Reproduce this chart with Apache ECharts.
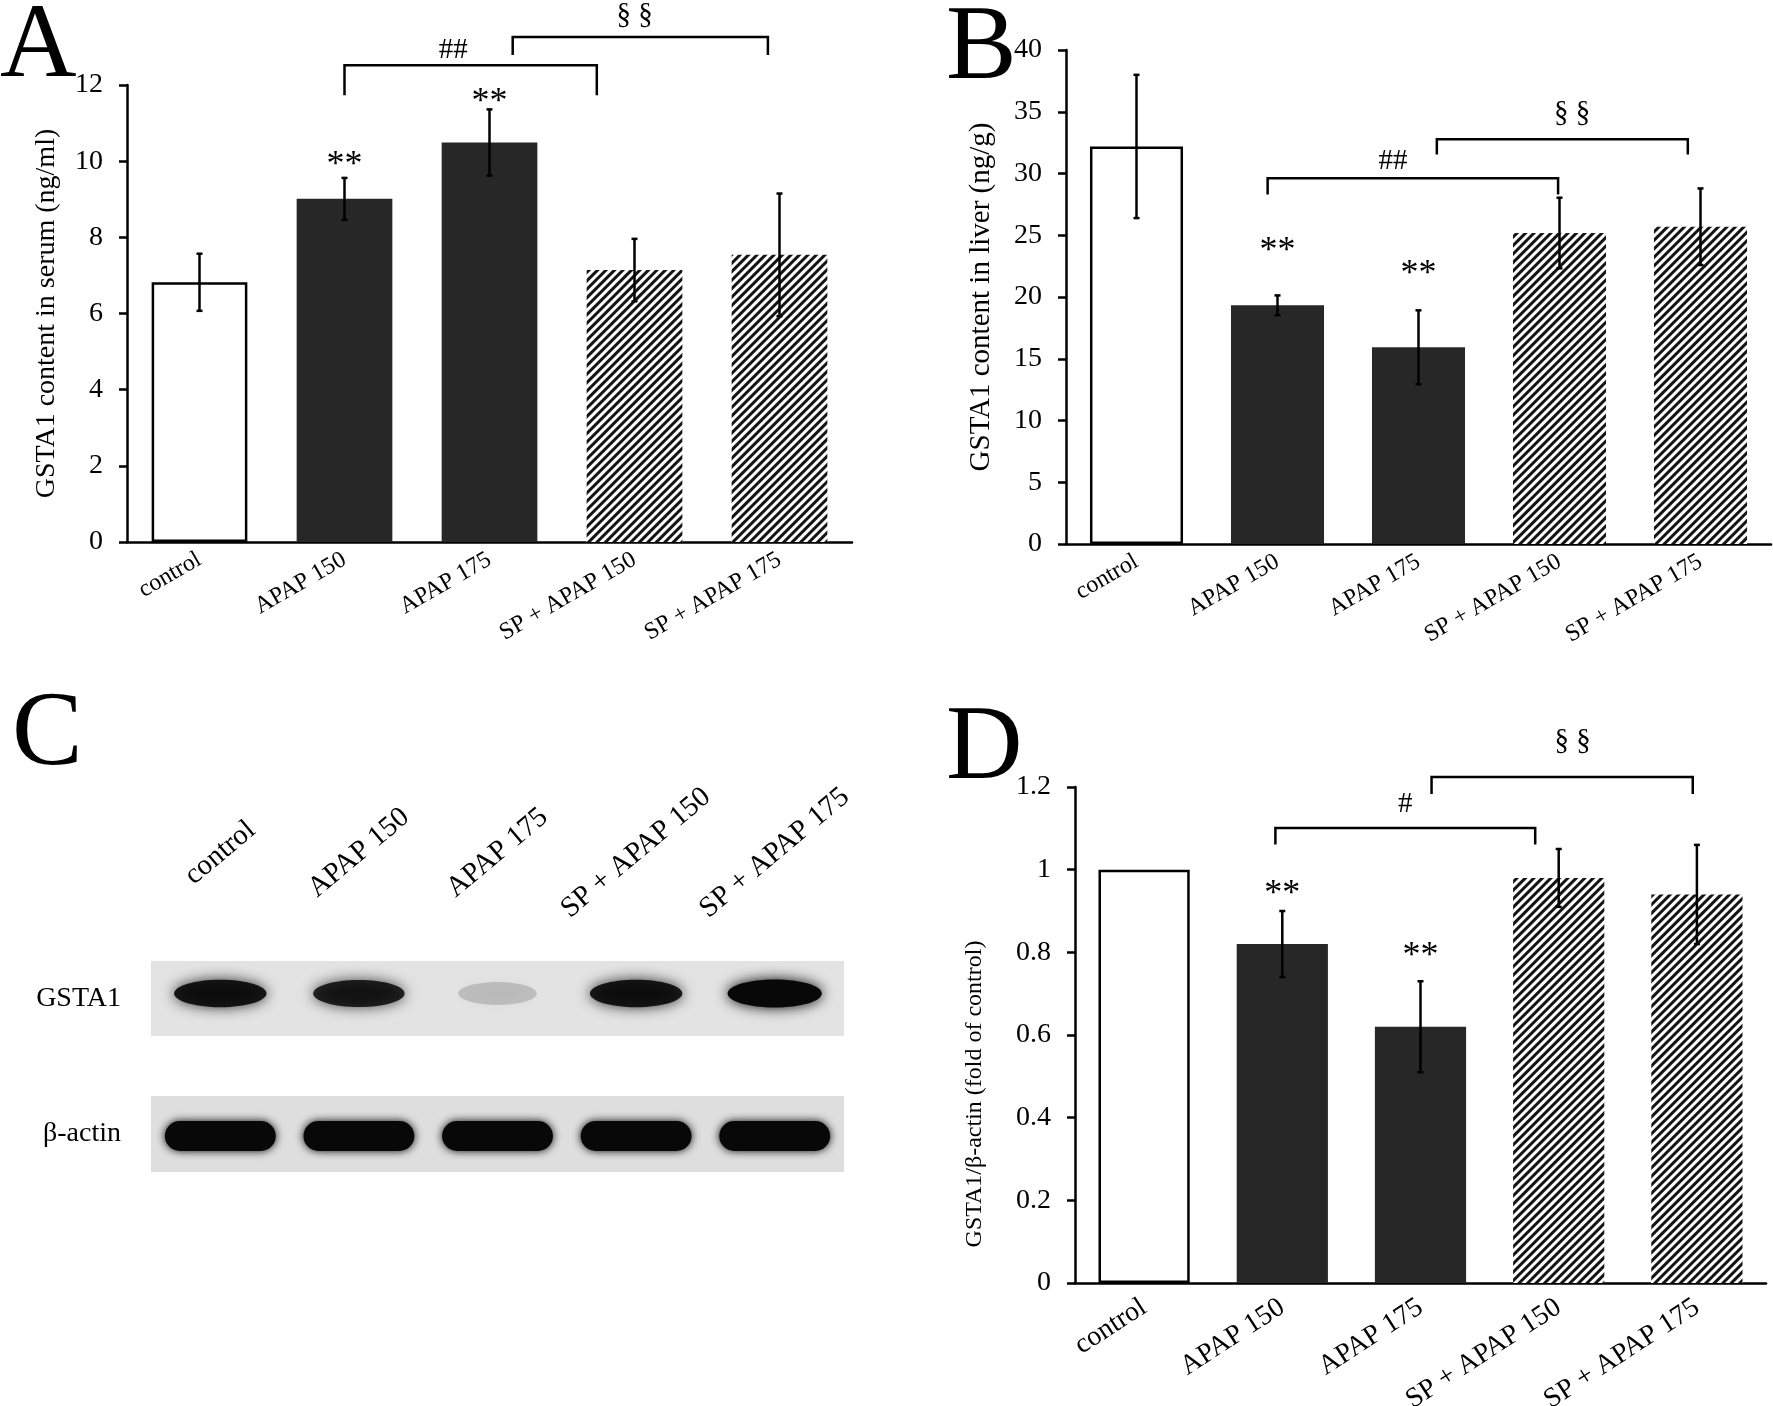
<!DOCTYPE html>
<html>
<head>
<meta charset="utf-8">
<script src="https://cdn.jsdelivr.net/npm/echarts@6/dist/echarts.min.js"></script>
<style>
    html, body { margin: 0; padding: 0; background: #fff; }
    #chart { width: 1773px; height: 1406px; }
</style>
</head>
<body>
<div id="chart"></div>
<script>
// 分组
const groups = ['control', 'APAP 150', 'APAP 175', 'SP + APAP 150', 'SP + APAP 175'];
const fillKind = ['open', 'solid', 'solid', 'hatch', 'hatch'];

// A: serum
const serumMean = [6.82, 9.01, 10.49, 7.14, 7.54];
const serumSd = [0.75, 0.55, 0.87, 0.82, 1.61];
const serumStars = [null, 10.09, 11.75, null, null];
// [from, to, bar y, leg y, text x, text y]
const serumBrackets = [[1.0, 2.74, 12.52, 11.73, 1.75, 12.9], [2.16, 3.92, 13.26, 12.79, 3.0, 13.84]];
const serumBracketText = ['##', '§ §'];

// B: liver
const liverMean = [32.19, 19.33, 15.93, 25.18, 25.69];
const liverSd = [5.8, 0.8, 2.99, 2.86, 3.1];
const liverStars = [null, 24.3, 22.5, null, null];
const liverBrackets = [[0.93, 2.99, 29.62, 28.29, 1.82, 31.0], [2.13, 3.91, 32.77, 31.54, 3.09, 34.86]];
const liverBracketText = ['##', '§ §'];

// C: western blot
const blotRows = ['GSTA1', 'β-actin'];
const gstaIntensity = [0.9, 0.85, 0.16, 0.9, 1.0];
const actinIntensity = [1, 1, 1, 1, 1];

// D: ratio
const ratioMean = [1.0, 0.82, 0.62, 0.98, 0.94];
const ratioSd = [0, 0.08, 0.11, 0.07, 0.12];
const ratioStars = [null, 0.96, 0.81, null, null];
const ratioBrackets = [[0.95, 2.83, 1.101, 1.061, 1.89, 1.159], [2.08, 3.97, 1.224, 1.183, 3.10, 1.311]];
const ratioBracketText = ['#', '§ §'];

const serif = "'Liberation Serif', 'Times New Roman', serif";
const ink = '#000';

const fillStyles = {
    open: { color: '#fff', borderColor: ink, borderWidth: 2.5 },
    solid: { color: '#272727' },
    hatch: {
        color: '#fff',
        decal: {
            symbol: 'rect',
            symbolSize: 1,
            dashArrayX: [1, 0],
            dashArrayY: [2.4, 2.1],
            rotation: -Math.PI / 4,
            color: '#141414',
            backgroundColor: '#fff'
        }
    }
};

// 类目轴上的小数位置
function xAt(api, pos) {
    const i = Math.round(pos);
    return api.coord([i, 0])[0] + (pos - i) * api.size([1, 0])[0];
}

function errorBarItem(sd) {
    return function (params, api) {
        const i = params.dataIndex;
        const m = api.value(1);
        const s = sd[i];
        if (!s) return null;
        const top = api.coord([i, m + s]);
        const bot = api.coord([i, m - s]);
        const x = top[0];
        const st = { stroke: ink, lineWidth: 2.5 };
        return {
            type: 'group',
            children: [
                { type: 'line', shape: { x1: x, y1: top[1], x2: x, y2: bot[1] }, style: st },
                { type: 'line', shape: { x1: x - 3, y1: top[1], x2: x + 3, y2: top[1] }, style: st },
                { type: 'line', shape: { x1: x - 3, y1: bot[1], x2: x + 3, y2: bot[1] }, style: st }
            ]
        };
    };
}

function starItem(stars) {
    return function (params, api) {
        const y = stars[params.dataIndex];
        if (y == null) return null;
        const p = api.coord([params.dataIndex, y]);
        return {
            type: 'text', x: p[0], y: p[1] + 8,
            style: { text: '**', fontSize: 36, fontFamily: serif, fill: ink, align: 'center', verticalAlign: 'middle' }
        };
    };
}

function bracketItem(list, texts) {
    return function (params, api) {
        const b = list[params.dataIndex];
        const x1 = xAt(api, b[0]);
        const x2 = xAt(api, b[1]);
        const y = api.coord([0, b[2]])[1];
        const yl = api.coord([0, b[3]])[1];
        return {
            type: 'group',
            children: [
                { type: 'polyline', shape: { points: [[x1, yl], [x1, y], [x2, y], [x2, yl]] }, style: { stroke: ink, lineWidth: 2.5, fill: null } },
                {
                    type: 'text', x: xAt(api, b[4]), y: api.coord([0, b[5]])[1],
                    style: { text: texts[params.dataIndex], fontSize: 29, fontFamily: serif, fill: ink, align: 'center', verticalAlign: 'middle' }
                }
            ]
        };
    };
}

// 印迹条带：GSTA1 用椭圆，β-actin 用圆角矩形
function blotItem(rowIndex) {
    return function (params, api) {
        const v = api.value(1);
        const c = api.coord([params.dataIndex, 0]);
        const bw = api.size([1, 0])[0];
        const shade = 'rgba(8,8,8,' + v + ')';
        if (rowIndex === 0) {
            const rx = bw * 0.34 * (0.8 + 0.2 * v);
            return {
                type: 'ellipse',
                shape: { cx: c[0], cy: c[1] - 5, rx: rx, ry: 11 + 3 * v },
                style: { fill: shade, shadowBlur: 14, shadowColor: shade }
            };
        }
        const w = bw * 0.8;
        return {
            type: 'rect',
            shape: { x: c[0] - w / 2, y: c[1] - 13, width: w, height: 30, r: 15 },
            style: { fill: shade, shadowBlur: 8, shadowColor: shade }
        };
    };
}

const panels = [
    { grid: { left: 127, top: 85, width: 725, height: 457 }, mean: serumMean, sd: serumSd, stars: serumStars,
      brackets: serumBrackets, texts: serumBracketText, max: 12, interval: 2,
      name: 'GSTA1 content in serum (ng/ml)', nameGap: 66, nameSize: 28, nameShift: 0, labelSize: 24, rotate: 30, labelGap: 16 },
    { grid: { left: 1066, top: 50, width: 705, height: 494 }, mean: liverMean, sd: liverSd, stars: liverStars,
      brackets: liverBrackets, texts: liverBracketText, max: 40, interval: 5,
      name: 'GSTA1 content in liver (ng/g)', nameGap: 70, nameSize: 29, nameShift: 0, labelSize: 24, rotate: 30, labelGap: 16 },
    { grid: { left: 1075, top: 787, width: 691, height: 496 }, mean: ratioMean, sd: ratioSd, stars: ratioStars,
      brackets: ratioBrackets, texts: ratioBracketText, max: 1.2, interval: 0.2,
      name: 'GSTA1/β-actin (fold of control)', nameGap: 88, nameSize: 24, nameShift: 118, labelSize: 28, rotate: 33, labelGap: 22 }
];

const grid = [];
const xAxis = [];
const yAxis = [];
const series = [];

panels.forEach(function (p, k) {
    grid.push(Object.assign({ outerBoundsMode: 'none', containLabel: false }, p.grid));
    xAxis.push({
        type: 'category', gridIndex: k, data: groups,
        axisLine: { lineStyle: { color: ink, width: 2.5 } },
        axisTick: { length: 8, lineStyle: { color: ink, width: 2.5 } },
        axisLabel: { rotate: p.rotate, margin: p.labelGap, color: ink, fontSize: p.labelSize, fontFamily: serif, interval: 0 }
    });
    yAxis.push({
        type: 'value', gridIndex: k, min: 0, max: p.max, interval: p.interval,
        name: p.name, nameLocation: 'middle', nameGap: p.nameGap,
        nameTextStyle: { color: ink, fontSize: p.nameSize, fontFamily: serif, padding: [0, p.nameShift, 0, 0] },
        axisLine: { show: true, lineStyle: { color: ink, width: 2.5 } },
        axisTick: { show: true, length: 8, lineStyle: { color: ink, width: 2.5 } },
        axisLabel: { margin: 24, color: ink, fontSize: 28, fontFamily: serif },
        splitLine: { show: false }
    });
    series.push({
        type: 'bar', xAxisIndex: k, yAxisIndex: k, barWidth: '66%',
        data: p.mean.map(function (v, i) { return { value: v, itemStyle: fillStyles[fillKind[i]] }; })
    });
    series.push({
        type: 'custom', xAxisIndex: k, yAxisIndex: k, z: 5,
        data: p.mean.map(function (v, i) { return [i, v]; }),
        renderItem: errorBarItem(p.sd)
    });
    series.push({
        type: 'custom', xAxisIndex: k, yAxisIndex: k, z: 5,
        data: p.stars.map(function (v, i) { return [i, v == null ? 0 : v]; }),
        renderItem: starItem(p.stars)
    });
    series.push({
        type: 'custom', xAxisIndex: k, yAxisIndex: k, z: 5,
        data: p.brackets.map(function (b) { return [Math.round(b[0]), b[2]]; }),
        renderItem: bracketItem(p.brackets, p.texts)
    });
});

// C: blot strips
const blotGrids = [
    { left: 151, top: 961, width: 693, height: 75, show: true, backgroundColor: '#e3e3e3', borderWidth: 0 },
    { left: 151, top: 1096, width: 693, height: 76, show: true, backgroundColor: '#dedede', borderWidth: 0 }
];
const blotData = [gstaIntensity, actinIntensity];
blotGrids.forEach(function (g, r) {
    const k = grid.length;
    grid.push(Object.assign({ outerBoundsMode: 'none', containLabel: false }, g));
    xAxis.push({
        type: 'category', gridIndex: k, data: groups, position: 'top',
        axisLine: { show: false }, axisTick: { show: false },
        axisLabel: r === 0 ? {
            show: true, interval: 0, rotate: -40, align: 'center', verticalAlign: 'middle', margin: 108,
            color: ink, fontSize: 29, fontFamily: serif
        } : { show: false }
    });
    yAxis.push({
        type: 'category', gridIndex: k, data: [blotRows[r]],
        axisLine: { show: false }, axisTick: { show: false },
        axisLabel: { margin: 30, color: ink, fontSize: 28, fontFamily: serif }
    });
    series.push({
        type: 'custom', xAxisIndex: k, yAxisIndex: k,
        data: blotData[r].map(function (v, i) { return [i, v]; }),
        renderItem: blotItem(r)
    });
});

const letter = function (t, x, y) {
    return { type: 'text', x: x, y: y, style: { text: t, fontSize: 106, fontFamily: serif, fill: ink, verticalAlign: 'middle' } };
};

const chart = echarts.init(document.getElementById('chart'));
chart.setOption({
    animation: false,
    backgroundColor: '#fff',
    grid: grid,
    xAxis: xAxis,
    yAxis: yAxis,
    series: series,
    graphic: [
        letter('A', 0, 48),
        letter('B', 946, 50),
        letter('C', 12, 736),
        letter('D', 946, 750)
    ]
});
</script>
</body>
</html>
